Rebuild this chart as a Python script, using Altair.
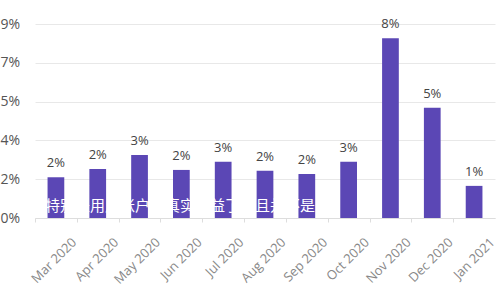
import altair as alt
import pandas as pd

months = ["Mar 2020", "Apr 2020", "May 2020", "Jun 2020", "Jul 2020", "Aug 2020",
          "Sep 2020", "Oct 2020", "Nov 2020", "Dec 2020", "Jan 2021"]
values = [0.0189, 0.0227, 0.0292, 0.0223, 0.0261, 0.0219,
          0.0204, 0.0261, 0.0834, 0.0512, 0.0149]
y_ticks = [0, 0.018, 0.036, 0.054, 0.072, 0.09]
watermark = ["特别是用户账户的真实收益了，且并不是的"]

df = pd.DataFrame({"month": months, "value": values})

x = alt.X("month:N", sort=months, title=None,
          scale=alt.Scale(paddingInner=0.6, paddingOuter=0.3),
          axis=alt.Axis(labelAngle=-45, labelAlign="right", labelBaseline="middle",
                        tickOffset=-20.9, labelOffset=39, labelPadding=18,
                        tickSize=4, tickColor="#dddddd", domainColor="#dddddd",
                        labelColor="#888888", labelFontSize=13, labelFont="Open Sans",
                        labelOverlap=False, labelBound=False))
y = alt.Y("value:Q", title=None, scale=alt.Scale(domain=[0, 0.09], nice=False),
          axis=alt.Axis(values=y_ticks, format=".0%", domain=False, ticks=False,
                        labelAlign="left", labelPadding=35, labelColor="#555555",
                        labelFontSize=14, labelFont="Open Sans",
                        labelOverlap=False, labelFlush=False, labelBound=False,
                        gridColor="#e8e8e8"))

base = alt.Chart(df).encode(x=x, y=y)
bars = base.mark_bar(color="#5b47b5")
labels = base.mark_text(dy=-14, fontSize=13, color="#444444", font="Open Sans").encode(
    text=alt.Text("value:Q", format=".0%"))
wm = alt.Chart(pd.DataFrame({"t": watermark})).mark_text(
    align="left", baseline="middle", fontSize=15, color="white", font="Noto Sans CJK SC"
).encode(x=alt.value(10), y=alt.value(182), text="t:N")

chart = (bars + labels + wm).properties(
    width=460, height=194,
    autosize=alt.AutoSizeParams(type="none"),
    padding={"left": 35, "top": 24, "right": 5, "bottom": 82},
).configure_view(stroke=None)

chart.save("out.html", embed_options={"renderer": "svg", "actions": False})
